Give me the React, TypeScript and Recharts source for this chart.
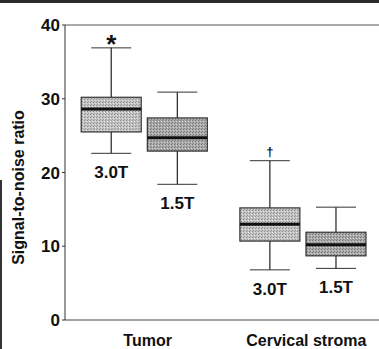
import { Bar, ComposedChart, ReferenceLine, XAxis, YAxis } from "recharts";

// Box plot values (signal-to-noise ratio)
const boxNames = ["Tumor 3.0T", "Tumor 1.5T", "Cervical 3.0T", "Cervical 1.5T"];
const fieldLabels = ["3.0T", "1.5T", "3.0T", "1.5T"];
const boxPositions = [0.7, 1.7, 3.1, 4.1];
const minValues = [22.6, 18.4, 6.8, 7.0];
const q1Values = [25.5, 22.9, 10.7, 8.7];
const medianValues = [28.6, 24.7, 13.0, 10.2];
const q3Values = [30.2, 27.4, 15.2, 11.9];
const maxValues = [36.9, 30.9, 21.6, 15.3];
const significance = ["*", "", "†", ""];

const groupNames = ["Tumor", "Cervical stroma"];
const groupPositions = [1.25, 3.65];
const yTicks = [0, 10, 20, 30, 40];

const data = boxNames.map((name, i) => ({
  name,
  field: fieldLabels[i],
  pos: boxPositions[i],
  min: minValues[i],
  q1: q1Values[i],
  median: medianValues[i],
  q3: q3Values[i],
  max: maxValues[i],
  mark: significance[i],
}));

const FONT = "'Liberation Sans', Arial, sans-serif";

const BoxShape = (props: any) => {
  const { x, y, width, height, payload, index } = props;
  const span = payload.max - payload.min;
  const py = (v: number) => y + ((payload.max - v) / span) * height;
  const cx = x + width / 2;
  const capHalf = width / 3;
  const light = payload.field === "3.0T";
  const id = `stipple-${index}`;
  const yTop = py(payload.q3);
  const yBottom = py(payload.q1);

  return (
    <g>
      <defs>
        <pattern id={id} width="3" height="3" patternUnits="userSpaceOnUse">
          <rect width="3" height="3" fill={light ? "#c4c4c4" : "#ababab"} />
          <rect x="0" y="0" width="1" height="1" fill={light ? "#8c8c8c" : "#777"} />
          <rect x="2" y="1" width="1" height="1" fill={light ? "#e2e2e2" : "#cfcfcf"} />
          <rect x="1" y="2" width="1" height="1" fill={light ? "#999" : "#808080"} />
        </pattern>
      </defs>
      {/* whiskers */}
      <line x1={cx} x2={cx} y1={py(payload.max)} y2={yTop} stroke="#222" strokeWidth={1.2} />
      <line x1={cx} x2={cx} y1={yBottom} y2={py(payload.min)} stroke="#222" strokeWidth={1.2} />
      <line x1={cx - capHalf} x2={cx + capHalf} y1={py(payload.max)} y2={py(payload.max)} stroke="#333" strokeWidth={1} />
      <line x1={cx - capHalf} x2={cx + capHalf} y1={py(payload.min)} y2={py(payload.min)} stroke="#333" strokeWidth={1} />
      {/* box */}
      <rect x={x} y={yTop} width={width} height={yBottom - yTop} fill={`url(#${id})`} stroke="#333" strokeWidth={1.2} />
      <line x1={x} x2={x + width} y1={py(payload.median)} y2={py(payload.median)} stroke="#111" strokeWidth={3} />
      {payload.mark && (
        <text
          x={cx}
          y={payload.mark === "*" ? py(payload.max) + 5 : py(payload.max) - 5}
          textAnchor="middle"
          fontFamily={FONT}
          fontWeight="bold"
          fontSize={payload.mark === "*" ? 26 : 13}
          fill="#111"
        >
          {payload.mark}
        </text>
      )}
      <text x={cx} y={py(payload.min) + 25} textAnchor="middle" fontFamily={FONT} fontWeight="bold" fontSize={17} fill="#111">
        {payload.field}
      </text>
    </g>
  );
};

const GroupTick = (props: any) => {
  const { x, payload } = props;
  const i = groupPositions.indexOf(payload.value);
  return (
    <text x={x} y={346} textAnchor="middle" fontFamily={FONT} fontWeight="bold" fontSize={16} fill="#111">
      {groupNames[i]}
    </text>
  );
};

export default function App() {
  return (
    <div style={{ position: "absolute", left: 0, top: 0, width: 379, height: 349, background: "#fff" }}>
      <div style={{ position: "absolute", left: 0, top: 0, width: 379, height: 3, background: "#2b2b2b" }} />
      <div style={{ position: "absolute", left: 0, top: 180, width: 2, height: 169, background: "#333" }} />
      <ComposedChart width={379} height={349} data={data} margin={{ top: 25, right: 0, bottom: 0, left: 0 }}>
        <XAxis
          dataKey="pos"
          type="number"
          domain={[0, 4.75]}
          ticks={groupPositions}
          tick={<GroupTick />}
          tickLine={false}
          height={29}
          stroke="#444"
          interval={0}
        />
        <YAxis
          type="number"
          domain={[0, 40]}
          ticks={yTicks}
          width={65}
          stroke="#333"
          tickSize={3}
          tickMargin={2}
          tick={{ fontFamily: FONT, fontWeight: "bold", fontSize: 17, fill: "#111" }}
          label={({ viewBox }: any) => (
            <text
              x={18}
              y={viewBox.y + viewBox.height / 2 + 15}
              transform={`rotate(-90 18 ${viewBox.y + viewBox.height / 2 + 15})`}
              textAnchor="middle"
              dominantBaseline="central"
              fontFamily={FONT}
              fontWeight="bold"
              fontSize={16}
              fill="#111"
            >
              Signal-to-noise ratio
            </text>
          )}
        />
        <ReferenceLine y={40} stroke="#555" strokeWidth={1} />
        <Bar
          dataKey={(d: any) => [d.min, d.max]}
          barSize={60}
          shape={<BoxShape />}
          isAnimationActive={false}
        />
      </ComposedChart>
    </div>
  );
}
